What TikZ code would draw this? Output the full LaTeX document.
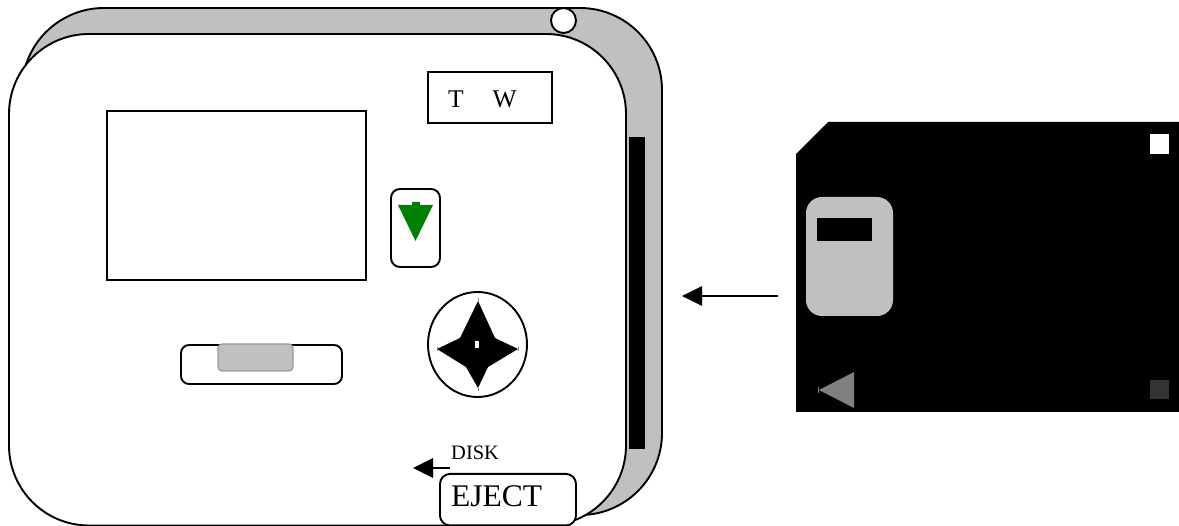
\documentclass[tikz,border=0pt]{standalone}
\usepackage{fontspec}
\usetikzlibrary{shapes.geometric}
\setmainfont{Liberation Serif}
\tikzset{
  ln/.style={draw=black,line width=1.9pt},
  box/.style={ln,fill=white,rectangle,inner sep=0pt},
  caption/.style={inner sep=0pt,anchor=base west,text=black},
  pointer/.style={line width=1.8pt,black},
  head/.style={fill=black,draw=none},
  tick/.style={draw=gray,line width=.6pt}
}
\definecolor{panel}{HTML}{C0C0C0}
\definecolor{tri}{HTML}{808080}
\definecolor{btn}{HTML}{008000}
\definecolor{darksq}{HTML}{333333}
\begin{document}
\begin{tikzpicture}[x=1pt,y=-1pt]
\useasboundingbox (0,0) rectangle (1179,526);
% body
\draw[ln,fill=panel,rounded corners=82pt] (22,8) rectangle (662,515);
\fill[black] (629,137) rectangle (645,449);
\draw[ln,fill=white,rounded corners=80pt] (9,34) rectangle (626,525.5);
\node[ln,fill=white,circle,minimum size=25pt,inner sep=0pt] (hinge) at (563.5,20.5) {};
% write protect box
\node[box,minimum width=124pt,minimum height=51pt] (tw) at (490,97.5) {};
\node[caption,font=\fontsize{25.5}{26}\selectfont] (tlab) at (448,108) {T};
\node[caption,font=\fontsize{25.5}{26}\selectfont] (wlab) at (492.5,108) {W};
% screen
\node[box,minimum width=259pt,minimum height=169pt] (screen) at (236.5,195.5) {};
% green button
\node[box,rounded corners=9pt,minimum width=49pt,minimum height=78pt] (vol) at (415.5,228) {};
\fill[btn] (412,205) -- (412,202) -- (420,202) -- (420,205) -- (433,205) -- (415.5,241) -- (398,205) -- cycle;
% dial
\node[ln,fill=white,ellipse,minimum width=99pt,minimum height=105pt,inner sep=0pt] (dial) at (477.5,344.5) {};
\fill[black] (478,301) -- (495,338) -- (518,349) -- (488,367) -- (478,388) -- (466,367) -- (437,349) -- (460,338) -- cycle;
\fill[white] (475,341) rectangle (479,348);
\draw[tick] (478,298) -- (478,301) (478,388) -- (478,391) (437,347) -- (437,351) (518,347) -- (518,351);
% slider
\node[box,rounded corners=8pt,minimum width=161pt,minimum height=39pt] (slider) at (261.5,364.5) {};
\node[draw=black!40,line width=1.2pt,fill=panel,rounded corners=4pt,inner sep=0pt,minimum width=75pt,minimum height=27pt] (knob) at (255.5,357.5) {};
% eject
\node[box,rounded corners=10pt,minimum width=136pt,minimum height=51.5pt] (eject) at (508,499.7) {};
\node[caption,font=\fontsize{31.5}{32}\selectfont] (ejlab) at (451,507) {EJECT};
\node[caption,font=\fontsize{20.5}{21}\selectfont] (disklab) at (451,460) {DISK};
\coordinate (ea) at (450,468);
\coordinate (eb) at (433,468);
\coordinate (et) at (413,468);
\draw[pointer] (ea) -- (eb);
\fill[head] (et) -- (433,458) -- (433,478) -- cycle;
% disk arrow
\coordinate (da) at (778,296);
\coordinate (db) at (702,296);
\coordinate (dt) at (682,296);
\draw[pointer] (da) -- (db);
\fill[head] (dt) -- (702,286) -- (702,306) -- cycle;
% floppy
\fill[black] (828,122) -- (1179,122) -- (1179,412) -- (796,412) -- (796,154) -- cycle;
\fill[panel,rounded corners=16pt] (806,197) rectangle (893,316);
\fill[black] (817,218) rectangle (872,241);
\fill[tri] (819,390) -- (854,372) -- (854,408) -- cycle;
\draw[tick] (818,387) -- (818,393);
\fill[white] (1149.5,134.5) rectangle (1169,154);
\fill[darksq] (1149.5,380) rectangle (1169,399.5);
\end{tikzpicture}
\end{document}
